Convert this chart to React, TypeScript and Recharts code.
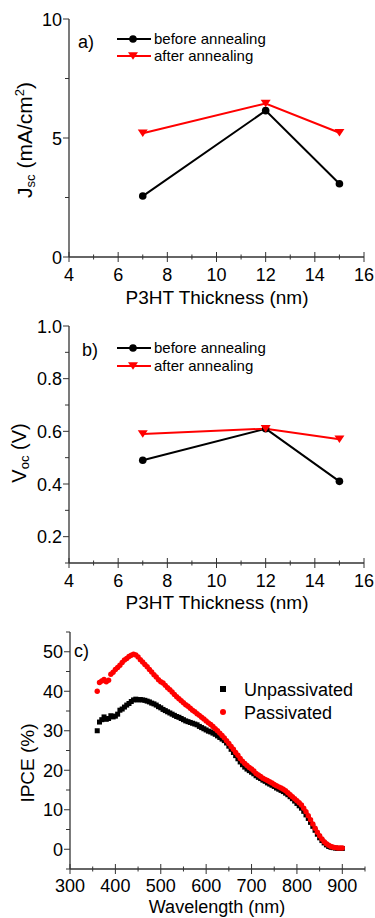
import React from 'react';
import { LineChart, Line, ScatterChart, Scatter, XAxis, YAxis, Legend } from 'recharts';

const FONT = '"Liberation Sans", Arial, Helvetica, sans-serif';
const AXIS_COLOR = '#333333';
const FRAME_COLOR = '#a0a0a0';
const RED = '#ff0000';
const BLACK = '#000000';

// ---------- Panels a) and b) ----------
const thickness = [7, 12, 15];
const jscBefore = [2.56, 6.15, 3.08];
const jscAfter = [5.2, 6.45, 5.22];
const vocBefore = [0.49, 0.61, 0.41];
const vocAfter = [0.59, 0.61, 0.57];
const annealNames = ['before annealing', 'after annealing'];

const thicknessMajorTicks = [4, 6, 8, 10, 12, 14, 16];
const thicknessMinorTicks = [5, 7, 9, 11, 13, 15];
const jscMajorTicks = [0, 5, 10];
const jscMinorTicks = [2.5, 7.5];
const vocMajorTicks = [0.2, 0.4, 0.6, 0.8, 1.0];
const vocMinorTicks = [0.1, 0.3, 0.5, 0.7, 0.9];

// ---------- Panel c) ----------
const wavelengths = [
  360, 365, 370, 375, 380, 385, 390, 395, 400, 405,
  410, 415, 420, 425, 430, 435, 440, 445, 450, 455,
  460, 465, 470, 475, 480, 485, 490, 495, 500, 505,
  510, 515, 520, 525, 530, 535, 540, 545, 550, 555,
  560, 565, 570, 575, 580, 585, 590, 595, 600, 605,
  610, 615, 620, 625, 630, 635, 640, 645, 650, 655,
  660, 665, 670, 675, 680, 685, 690, 695, 700, 705,
  710, 715, 720, 725, 730, 735, 740, 745, 750, 755,
  760, 765, 770, 775, 780, 785, 790, 795, 800, 805,
  810, 815, 820, 825, 830, 835, 840, 845, 850, 855,
  860, 865, 870, 875, 880, 885, 890, 895, 900,
];
const ipceUnpassivated = [
  30.0, 32.2, 32.8, 33.5, 32.9, 33.1, 33.8, 33.5, 33.7, 34.2,
  35.2, 35.5, 36.0, 36.5, 36.9, 37.4, 37.8, 38.0, 37.8, 37.9,
  37.8, 37.7, 37.5, 37.3, 37.0, 36.8, 36.5, 36.1, 35.8, 35.4,
  35.1, 34.8, 34.5, 34.2, 33.9, 33.6, 33.4, 33.1, 32.8, 32.5,
  32.3, 32.1, 31.9, 31.7, 31.5, 31.1, 30.8, 30.5, 30.2, 29.9,
  29.7, 29.4, 29.1, 28.7, 28.3, 27.9, 27.5, 26.9, 26.1, 25.3,
  24.5, 23.7, 22.9, 22.1, 21.4, 20.8, 20.3, 19.9, 19.5, 19.1,
  18.6, 18.2, 17.9, 17.5, 17.2, 16.8, 16.5, 16.2, 15.9, 15.5,
  15.2, 14.9, 14.6, 14.2, 13.8, 13.3, 12.8, 12.2, 11.6, 11.0,
  10.4, 9.6, 8.7, 7.8, 6.8, 5.8, 4.8, 3.8, 2.9, 2.2,
  1.6, 1.1, 0.7, 0.5, 0.4, 0.3, 0.2, 0.2, 0.2,
];
const ipcePassivated = [
  40.0, 42.2, 42.6, 43.0, 42.4, 42.8, 44.3, 44.8, 45.5, 46.0,
  46.6, 47.3, 47.9, 48.3, 48.8, 49.1, 49.4, 49.2, 48.7, 48.0,
  47.4, 46.8, 46.2, 45.5, 44.9, 44.2, 43.6, 42.9, 42.4, 42.1,
  41.5, 40.9, 40.4, 39.8, 39.2, 38.6, 38.1, 37.6, 37.1, 36.6,
  36.2, 35.7, 35.2, 34.8, 34.3, 33.9, 33.4, 33.0, 32.5, 32.0,
  31.6, 31.1, 30.5, 30.0, 29.4, 28.8, 28.2, 27.5, 26.8, 26.0,
  25.3, 24.5, 23.8, 23.0, 22.3, 21.7, 21.2, 20.7, 20.3, 19.8,
  19.2, 18.8, 18.4, 18.0, 17.7, 17.4, 17.1, 16.8, 16.4, 16.1,
  15.8, 15.5, 15.2, 14.8, 14.3, 13.8, 13.3, 12.8, 12.3, 11.8,
  11.2, 10.4, 9.5, 8.5, 7.5, 6.4, 5.3, 4.3, 3.4, 2.6,
  1.9, 1.4, 1.0, 0.7, 0.5, 0.4, 0.3, 0.3, 0.3,
];
const ipceNames = ['Unpassivated', 'Passivated'];
const wlMajorTicks = [300, 400, 500, 600, 700, 800, 900];
const wlMinorTicks = [350, 450, 550, 650, 750, 850, 950];
const ipceMajorTicks = [0, 10, 20, 30, 40, 50];
const ipceMinorTicks = [-5, 5, 15, 25, 35, 45, 55];

// ---------- helpers ----------
const isIn = (arr: number[], v: number) => arr.some((t) => Math.abs(t - v) < 1e-9);
const allTicks = (a: number[], b: number[]) => [...a, ...b].sort((x, y) => x - y);

const makeBottomTick = (majors: number[], fmt: (v: number) => string, labelOffset: number) => (props: any) => {
  const { x, y, payload } = props;
  const v = payload.value;
  const major = isIn(majors, v);
  const len = major ? 5 : 2.5;
  return (
    <g>
      <line x1={x} x2={x} y1={y - len} y2={y + len} stroke={AXIS_COLOR} strokeWidth={1} />
      {major && (
        <text x={x} y={y + labelOffset} textAnchor="middle" fontFamily={FONT} fontSize={18} fill="#000">
          {fmt(v)}
        </text>
      )}
    </g>
  );
};

const makeLeftTick = (majors: number[], fmt: (v: number) => string) => (props: any) => {
  const { x, y, payload } = props;
  const v = payload.value;
  const major = isIn(majors, v);
  const len = major ? 6 : 4;
  return (
    <g>
      <line x1={x - len} x2={x} y1={y} y2={y} stroke={AXIS_COLOR} strokeWidth={1} />
      {major && (
        <text x={x - 7} y={y + 6.5} textAnchor="end" fontFamily={FONT} fontSize={18} fill="#000">
          {fmt(v)}
        </text>
      )}
    </g>
  );
};

const circleDot = (color: string) => (p: any) => (
  <circle key={`c-${p.index}`} cx={p.cx} cy={p.cy} r={3.8} fill={color} stroke="none" />
);
const triDot = (color: string) => (p: any) => (
  <polygon
    key={`t-${p.index}`}
    points={`${p.cx - 5},${p.cy - 3.7} ${p.cx + 5},${p.cy - 3.7} ${p.cx},${p.cy + 3.7}`}
    fill={color}
    stroke="none"
  />
);

const AnnealLegend = ({ rowGap }: { rowGap: number }) => (
  <svg width={170} height={40} style={{ display: 'block', overflow: 'visible' }}>
    {annealNames.map((name, i) => {
      const cy = 8 + i * rowGap;
      const color = i === 0 ? BLACK : RED;
      return (
        <g key={name}>
          <line x1={0} x2={34} y1={cy} y2={cy} stroke={color} strokeWidth={2} />
          {i === 0 ? (
            <circle cx={16} cy={cy} r={3.8} fill={color} />
          ) : (
            <polygon points={`${11},${cy - 3.7} ${21},${cy - 3.7} ${16},${cy + 3.7}`} fill={color} />
          )}
          <text x={37} y={cy + 5} fontFamily={FONT} fontSize={15} fill="#000">
            {name}
          </text>
        </g>
      );
    })}
  </svg>
);

const IpceLegend = () => (
  <svg width={150} height={50} style={{ display: 'block', overflow: 'visible' }}>
    {ipceNames.map((name, i) => {
      const cy = 12 + i * 23;
      return (
        <g key={name}>
          {i === 0 ? (
            <rect x={5} y={cy - 3} width={6} height={6} fill={BLACK} />
          ) : (
            <circle cx={8} cy={cy} r={3} fill={RED} />
          )}
          <text x={29} y={cy + 6.5} fontFamily={FONT} fontSize={18} fill="#000">
            {name}
          </text>
        </g>
      );
    })}
  </svg>
);

const jscData = thickness.map((t, i) => ({ t, before: jscBefore[i], after: jscAfter[i] }));
const vocData = thickness.map((t, i) => ({ t, before: vocBefore[i], after: vocAfter[i] }));
const unpassData = wavelengths.map((wl, i) => ({ wl, ipce: ipceUnpassivated[i] }));
const passData = wavelengths.map((wl, i) => ({ wl, ipce: ipcePassivated[i] }));

const fmtInt = (v: number) => String(v);
const fmt1 = (v: number) => v.toFixed(1);

const PanelA = () => (
  <LineChart width={375} height={310} data={jscData} margin={{ top: 19, right: 11, bottom: 0, left: 0 }}>
    <XAxis
      dataKey="t"
      type="number"
      domain={[4, 16]}
      ticks={allTicks(thicknessMajorTicks, thicknessMinorTicks)}
      interval={0}
      tickLine={false}
      tickSize={0}
      tickMargin={0}
      tick={makeBottomTick(thicknessMajorTicks, fmtInt, 24)}
      axisLine={{ stroke: AXIS_COLOR, strokeWidth: 1.3 }}
      height={53}
      label={() => (
        <text x={217} y={304} textAnchor="middle" fontFamily={FONT} fontSize={19} fill="#000">
          P3HT Thickness (nm)
        </text>
      )}
    />
    <XAxis xAxisId="top" orientation="top" type="number" domain={[4, 16]} height={0} tick={false} tickLine={false} axisLine={{ stroke: FRAME_COLOR }} />
    <YAxis
      type="number"
      domain={[0, 10]}
      ticks={allTicks(jscMajorTicks, jscMinorTicks)}
      interval={0}
      tickLine={false}
      tickSize={0}
      tickMargin={0}
      tick={makeLeftTick(jscMajorTicks, fmtInt)}
      axisLine={{ stroke: AXIS_COLOR, strokeWidth: 1.3 }}
      width={69}
      label={() => (
        <g>
          <text transform="translate(32,140) rotate(-90)" textAnchor="middle" fontFamily={FONT} fontSize={21} fill="#000">
            J<tspan fontSize={13} dy={3}>sc</tspan>
            <tspan dy={-3}> (mA/cm</tspan>
            <tspan fontSize={13} dy={-8}>2</tspan>
            <tspan dy={8}>)</tspan>
          </text>
          <text x={78} y={48} fontFamily={FONT} fontSize={18} fill="#000">a)</text>
        </g>
      )}
    />
    <YAxis yAxisId="right" orientation="right" type="number" domain={[0, 10]} width={0} tick={false} tickLine={false} axisLine={{ stroke: FRAME_COLOR }} />
    <Line dataKey="before" name={annealNames[0]} stroke={BLACK} strokeWidth={2} dot={circleDot(BLACK)} isAnimationActive={false} />
    <Line dataKey="after" name={annealNames[1]} stroke={RED} strokeWidth={2} dot={triDot(RED)} isAnimationActive={false} />
    <Legend layout="vertical" align="center" verticalAlign="middle" wrapperStyle={{ left: 117, top: 31, width: 170, height: 40 }} content={() => <AnnealLegend rowGap={17} />} />
  </LineChart>
);

const PanelB = () => (
  <LineChart width={375} height={308} data={vocData} margin={{ top: 16, right: 11, bottom: 0, left: 0 }}>
    <XAxis
      dataKey="t"
      type="number"
      domain={[4, 16]}
      ticks={allTicks(thicknessMajorTicks, thicknessMinorTicks)}
      interval={0}
      tickLine={false}
      tickSize={0}
      tickMargin={0}
      tick={makeBottomTick(thicknessMajorTicks, fmtInt, 24)}
      axisLine={{ stroke: AXIS_COLOR, strokeWidth: 1.3 }}
      height={55}
      label={() => (
        <text x={217} y={299} textAnchor="middle" fontFamily={FONT} fontSize={19} fill="#000">
          P3HT Thickness (nm)
        </text>
      )}
    />
    <XAxis xAxisId="top" orientation="top" type="number" domain={[4, 16]} height={0} tick={false} tickLine={false} axisLine={{ stroke: FRAME_COLOR }} />
    <YAxis
      type="number"
      domain={[0.1, 1.0]}
      ticks={allTicks(vocMajorTicks, vocMinorTicks)}
      interval={0}
      tickLine={false}
      tickSize={0}
      tickMargin={0}
      tick={makeLeftTick(vocMajorTicks, fmt1)}
      axisLine={{ stroke: AXIS_COLOR, strokeWidth: 1.3 }}
      width={69}
      label={() => (
        <g>
          <text transform="translate(26,143) rotate(-90)" textAnchor="middle" fontFamily={FONT} fontSize={20} fill="#000">
            V<tspan fontSize={13} dy={3}>oc</tspan>
            <tspan dy={-3}> (V)</tspan>
          </text>
          <text x={82} y={46} fontFamily={FONT} fontSize={18} fill="#000">b)</text>
        </g>
      )}
    />
    <YAxis yAxisId="right" orientation="right" type="number" domain={[0.1, 1.0]} width={0} tick={false} tickLine={false} axisLine={{ stroke: FRAME_COLOR }} />
    <Line dataKey="before" name={annealNames[0]} stroke={BLACK} strokeWidth={2} dot={circleDot(BLACK)} isAnimationActive={false} />
    <Line dataKey="after" name={annealNames[1]} stroke={RED} strokeWidth={2} dot={triDot(RED)} isAnimationActive={false} />
    <Legend layout="vertical" align="center" verticalAlign="middle" wrapperStyle={{ left: 117, top: 30, width: 170, height: 40 }} content={() => <AnnealLegend rowGap={18} />} />
  </LineChart>
);

const squareShape = (p: any) => <rect x={p.cx - 2.5} y={p.cy - 2.5} width={5} height={5} fill={BLACK} />;
const roundShape = (p: any) => <circle cx={p.cx} cy={p.cy} r={2.7} fill={RED} />;

const PanelC = () => (
  <ScatterChart width={375} height={306} margin={{ top: 20, right: 10, bottom: 0, left: 0 }}>
    <XAxis
      dataKey="wl"
      type="number"
      domain={[300, 950]}
      ticks={allTicks(wlMajorTicks, wlMinorTicks)}
      interval={0}
      tickLine={false}
      tickSize={0}
      tickMargin={0}
      tick={makeBottomTick(wlMajorTicks, fmtInt, 23)}
      axisLine={{ stroke: AXIS_COLOR, strokeWidth: 1.3 }}
      height={49}
      label={() => (
        <text x={217} y={301} textAnchor="middle" fontFamily={FONT} fontSize={18} fill="#000">
          Wavelength (nm)
        </text>
      )}
    />
    <XAxis xAxisId="top" orientation="top" type="number" domain={[300, 950]} height={0} tick={false} tickLine={false} axisLine={{ stroke: FRAME_COLOR }} />
    <YAxis
      dataKey="ipce"
      type="number"
      domain={[-5, 55]}
      ticks={allTicks(ipceMajorTicks, ipceMinorTicks)}
      interval={0}
      tickLine={false}
      tickSize={0}
      tickMargin={0}
      tick={makeLeftTick(ipceMajorTicks, fmtInt)}
      axisLine={{ stroke: AXIS_COLOR, strokeWidth: 1.3 }}
      width={70}
      label={() => (
        <g>
          <text transform="translate(34,151) rotate(-90)" textAnchor="middle" fontFamily={FONT} fontSize={19} fill="#000">
            IPCE (%)
          </text>
          <text x={74} y={45} fontFamily={FONT} fontSize={18} fill="#000">c)</text>
        </g>
      )}
    />
    <YAxis yAxisId="right" orientation="right" type="number" domain={[-5, 55]} width={0} tick={false} tickLine={false} axisLine={{ stroke: FRAME_COLOR }} />
    <Scatter name={ipceNames[0]} data={unpassData} dataKey="ipce" shape={squareShape} isAnimationActive={false} />
    <Scatter name={ipceNames[1]} data={passData} dataKey="ipce" shape={roundShape} isAnimationActive={false} />
    <Legend layout="vertical" align="center" verticalAlign="middle" wrapperStyle={{ left: 215, top: 65, width: 150, height: 50 }} content={() => <IpceLegend />} />
  </ScatterChart>
);

export default function App() {
  return (
    <div style={{ position: 'absolute', left: 0, top: 0, width: 375, height: 918, background: '#fff' }}>
      <div style={{ position: 'absolute', left: 0, top: 0 }}>
        <PanelA />
      </div>
      <div style={{ position: 'absolute', left: 0, top: 310 }}>
        <PanelB />
      </div>
      <div style={{ position: 'absolute', left: 0, top: 612 }}>
        <PanelC />
      </div>
    </div>
  );
}
